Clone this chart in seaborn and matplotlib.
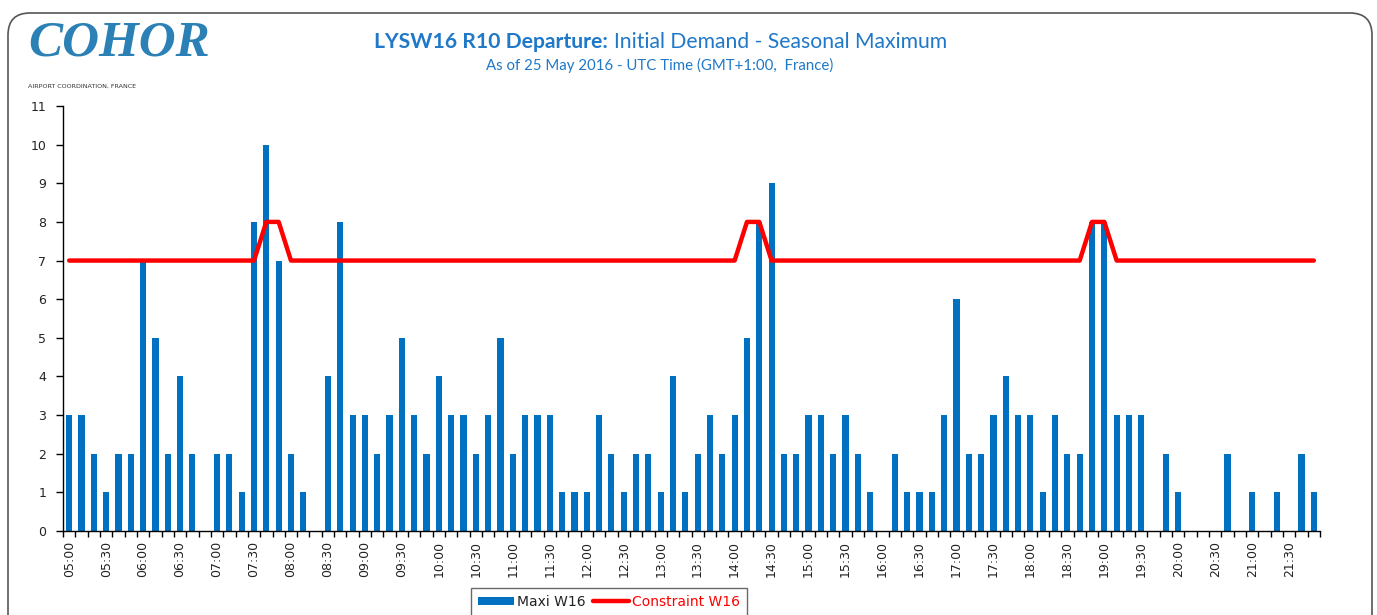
import numpy as np
import pandas as pd
import matplotlib
matplotlib.use("Agg")
import matplotlib.pyplot as plt
from matplotlib.patches import FancyBboxPatch, Patch
from matplotlib.lines import Line2D
import seaborn as sns

# 10-minute slots, 05:00 -> 21:50
slots = list(pd.date_range("2016-05-25 05:00", "2016-05-25 21:50", freq="10min").strftime("%H:%M"))

maxi_w16 = [
    3, 3, 2, 1, 2, 2, 7, 5, 2, 4, 2, 0, 2, 2, 1,
    8, 10, 7, 2, 1, 0, 4, 8, 3, 3, 2, 3, 5, 3, 2, 4, 3, 3,
    2, 3, 5, 2, 3, 3, 3, 1, 1, 1, 3, 2, 1, 2, 2, 1, 4, 1,
    2, 3, 2, 3, 5, 8, 9, 2, 2, 3, 3, 2, 3, 2, 1, 0, 2, 1,
    1, 1, 3, 6, 2, 2, 3, 4, 3, 3, 1, 3, 2, 2, 8, 8, 3, 3,
    3, 0, 2, 1, 0, 0, 0, 2, 0, 1, 0, 1, 0, 2, 1,
]

constraint_w16 = [
    7, 7, 7, 7, 7, 7, 7, 7, 7, 7, 7, 7, 7, 7, 7,
    7, 8, 8, 7, 7, 7, 7, 7, 7, 7, 7, 7, 7, 7, 7, 7, 7, 7,
    7, 7, 7, 7, 7, 7, 7, 7, 7, 7, 7, 7, 7, 7, 7, 7, 7, 7,
    7, 7, 7, 7, 8, 8, 7, 7, 7, 7, 7, 7, 7, 7, 7, 7, 7, 7,
    7, 7, 7, 7, 7, 7, 7, 7, 7, 7, 7, 7, 7, 7, 8, 8, 7, 7,
    7, 7, 7, 7, 7, 7, 7, 7, 7, 7, 7, 7, 7, 7, 7,
]

title_bold = "LYSW16 R10 Departure:"
title_rest = "Initial Demand - Seasonal Maximum"
subtitle = "As of 25 May 2016 - UTC Time (GMT+1:00,  France)"

sns.set_style("ticks")
plt.rcParams["font.family"] = ["DejaVu Sans"]

W, H = 1377, 615
fig = plt.figure(figsize=(W / 100, H / 100), dpi=100)
r = fig.canvas.get_renderer()

# rounded frame round the whole sheet
frame = FancyBboxPatch((0.08, -0.5), 13.64, 6.52, boxstyle="round,pad=0,rounding_size=0.22",
                       transform=fig.dpi_scale_trans, facecolor="none", edgecolor="#555555", lw=1.2)
fig.patches.append(frame)

ax = fig.add_axes([63 / W, 1 - 531 / H, (1320 - 63) / W, (531 - 106) / H])
sns.barplot(x=slots, y=maxi_w16, color="#0070C0", saturation=1, width=0.5, linewidth=0, ax=ax)
ax.plot(np.arange(len(slots)), constraint_w16, color="#FF0000", lw=3.2, solid_capstyle="round")

ax.set_xlim(-0.5, len(slots) - 0.5)
ax.set_ylim(0, 11)
ax.set_yticks(range(12))
ax.set_xticks(range(0, len(slots), 3))
ax.set_xticklabels(slots[::3], rotation=90)
ax.set_xticks(np.arange(-0.5, len(slots) + 0.5, 1), minor=True)
ax.tick_params(axis="x", which="major", length=0, pad=7, labelsize=9, labelcolor="#222222")
ax.tick_params(axis="x", which="minor", length=4, width=1, color="black")
ax.tick_params(axis="y", length=5, width=1, color="black", pad=7, labelsize=9, labelcolor="#222222")
ax.set_xlabel("")
ax.set_ylabel("")
for s in ["top", "right"]:
    ax.spines[s].set_visible(False)
for s in ["left", "bottom"]:
    ax.spines[s].set_color("black")
    ax.spines[s].set_linewidth(1)


def fit(texts, target, gap=0):
    ws = [t.get_window_extent(r).width for t in texts]
    k = target / (sum(ws) + gap)
    for t in texts:
        t.set_fontsize(t.get_fontsize() * k)


# logo
logo = fig.text(28 / W, 1 - 44 / H, "COHOR", family="Liberation Serif", style="italic",
                weight="bold", fontsize=36, color="#2B80B5", va="center", ha="left")
fit([logo], 182)
tag = fig.text(28 / W, 1 - 86 / H, "AIRPORT COORDINATION, FRANCE", fontsize=4.3, color="#333333",
               va="center", ha="left")
fit([tag], 110)

# title, bold part + normal part
tcol = "#1F78C8"
t1 = fig.text(0, 1 - 42 / H, title_bold, family="Lato", weight="bold", fontsize=15,
              color=tcol, va="center", ha="left")
t2 = fig.text(0, 1 - 42 / H, title_rest, family="Lato", fontsize=15,
              color=tcol, va="center", ha="left")
fit([t1, t2], 575, gap=6)
w1 = t1.get_window_extent(r).width
w2 = t2.get_window_extent(r).width
x0 = 661 - (w1 + 6 + w2) / 2
t1.set_x(x0 / W)
t2.set_x((x0 + w1 + 6) / W)

st = fig.text(660 / W, 1 - 65 / H, subtitle, family="Lato", fontsize=10, color=tcol,
              va="center", ha="center")
fit([st], 346)

# legend
handles = [Patch(facecolor="#0070C0", edgecolor="none"),
           Line2D([0], [0], color="#FF0000", lw=3.2, solid_capstyle="round")]
leg = fig.legend(handles, ["Maxi W16", "Constraint W16"], loc="upper center",
                 bbox_to_anchor=(609 / W, 1 - 588 / H), ncol=2, frameon=True, fancybox=False,
                 edgecolor="#444444", fontsize=10, handlelength=2.6, handleheight=0.6,
                 handletextpad=0.2, columnspacing=0.5, borderpad=0.5, borderaxespad=0)
leg.get_frame().set_linewidth(1)
leg.get_texts()[0].set_color("#222222")
leg.get_texts()[1].set_color("#FF0000")

fig.savefig("out.png", dpi=100)
